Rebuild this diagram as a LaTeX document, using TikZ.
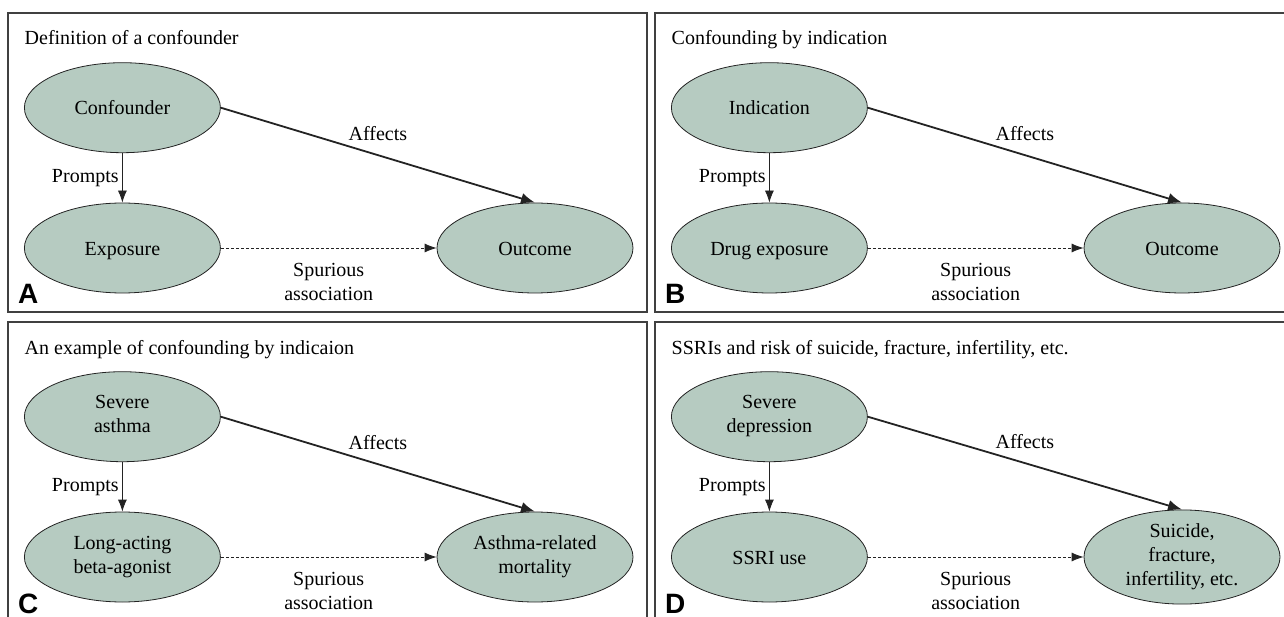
\documentclass[tikz,border=0pt]{standalone}
\usepackage{fontspec}
\setmainfont{Liberation Serif}
\newfontfamily\tagfont{Liberation Sans}
\usetikzlibrary{shapes.geometric,arrows.meta}

\definecolor{factorfill}{RGB}{182,203,193}
\definecolor{inkline}{RGB}{35,35,35}

\tikzset{
  every node/.style={font=\fontsize{20}{24}\selectfont},
  factor/.style={ellipse, draw=inkline, line width=0.8pt, fill=factorfill,
    minimum width=196pt, minimum height=90pt, inner sep=0pt, align=center,
    execute at begin node=\rule{0pt}{19.3pt},
    execute at end node=\rule[-4.7pt]{0pt}{4.7pt}},
  panelbox/.style={draw=black!75, line width=1.3pt},
  prompt/.style={-{Latex[length=12pt,width=9pt]}, line width=0.8pt, draw=inkline},
  affect/.style={-{Latex[length=14pt,width=11pt]}, line width=1.8pt, draw=inkline},
  spurious/.style={-{Latex[length=12pt,width=9pt]}, dash pattern=on 3pt off 2pt,
    line width=0.8pt, draw=inkline},
  tag/.style={font=\tagfont\bfseries\fontsize{28}{28}\selectfont, anchor=base west, inner sep=0pt},
  heading/.style={anchor=base west, inner sep=0pt}
}

% #1 prefix, #2/#3 corner, #4 letter, #5 title, #6 top, #7 left, #8 right
\newcommand{\confPanel}[8]{%
  \begin{scope}[shift={(#2,#3)}]
    \draw[panelbox] (0,0) rectangle (639,299);
    \node[heading] (#1title) at (16.5,32) {#5};
    \node[factor] (#1conf) at (114.4,94.7) {#6};
    \node[factor] (#1expo) at (114.4,235) {#7};
    \node[factor] (#1outc) at (527,235) {#8};
    \draw[prompt] (#1conf) -- (#1expo) node[midway, left] {Prompts};
    \draw[affect] (#1conf.east) -- (#1outc.north) node[midway, above=10pt] {Affects};
    \draw[spurious] (#1expo) -- (#1outc) node[midway, below=12pt, align=center] {Spurious\\association};
    \node[tag] (#1tag) at (10,291) {#4};
  \end{scope}}

\begin{document}
\begin{tikzpicture}[x=1pt, y=-1pt]
  \useasboundingbox (0,0) rectangle (1284,617);
  \clip (0,0) rectangle (1284,617);
  \confPanel{a}{8}{13}{A}{Definition of a confounder}{Confounder}{Exposure}{Outcome}
  \confPanel{b}{655}{13}{B}{Confounding by indication}{Indication}{Drug exposure}{Outcome}
  \confPanel{c}{8}{322}{C}{An example of confounding by indicaion}{Severe\\asthma}{Long-acting\\beta-agonist}{Asthma-related\\mortality}
  \confPanel{d}{655}{322}{D}{SSRIs and risk of suicide, fracture, infertility, etc.}{Severe\\depression}{SSRI use}{Suicide,\\fracture,\\infertility, etc.}
\end{tikzpicture}
\end{document}
